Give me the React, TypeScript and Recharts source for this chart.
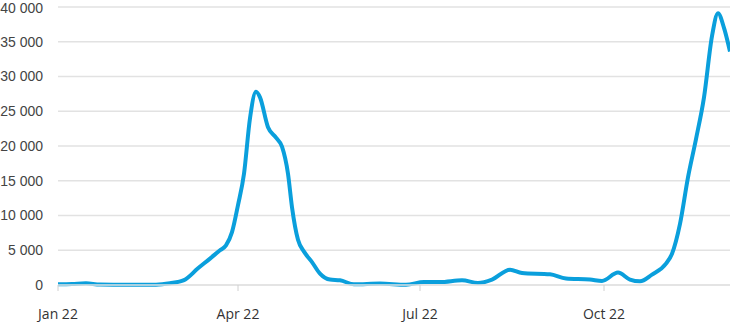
import React from 'react';
import { LineChart, Line, XAxis, YAxis, CartesianGrid } from 'recharts';

// sample dates (2022)
const dates = [
  '2022-01-01', '2022-01-08', '2022-01-15', '2022-01-22', '2022-02-05', '2022-02-19',
  '2022-02-26', '2022-03-05', '2022-03-12', '2022-03-18', '2022-03-23', '2022-03-26',
  '2022-03-29', '2022-04-01', '2022-04-04', '2022-04-07', '2022-04-10', '2022-04-12',
  '2022-04-16', '2022-04-20', '2022-04-23', '2022-04-26', '2022-04-28', '2022-05-01',
  '2022-05-04', '2022-05-08', '2022-05-12', '2022-05-17', '2022-05-22', '2022-05-29',
  '2022-06-11', '2022-06-24', '2022-07-03', '2022-07-11', '2022-07-22', '2022-07-30',
  '2022-08-06', '2022-08-15', '2022-08-21', '2022-09-04', '2022-09-12', '2022-09-24',
  '2022-09-30', '2022-10-08', '2022-10-14', '2022-10-19', '2022-10-25', '2022-11-01',
  '2022-11-04', '2022-11-08', '2022-11-12', '2022-11-16', '2022-11-20', '2022-11-24',
  '2022-11-27', '2022-11-30', '2022-12-03',
];

const values = [
  100, 150, 250, 60, 50, 50,
  250, 700, 2400, 3800, 5000, 5700,
  7600, 11500, 16000, 24000, 27800, 27000,
  22700, 21200, 19900, 16000, 11200, 6500,
  4800, 3300, 1640, 780, 680, 100,
  200, 50, 430, 430, 680, 290,
  780, 2200, 1730, 1540, 920, 780,
  580, 1790, 780, 530, 1500, 3080,
  4500, 8800, 15500, 21000, 27000, 35800,
  39100, 37000, 33600,
];

const xTicks = ['2022-01-01', '2022-04-01', '2022-07-01', '2022-10-01'];
const yTicks = [0, 5000, 10000, 15000, 20000, 25000, 30000, 35000, 40000];
const monthNames = ['Jan', 'Feb', 'Mar', 'Apr', 'May', 'Jun', 'Jul', 'Aug', 'Sep', 'Oct', 'Nov', 'Dec'];

const toTime = (d: string) => Date.parse(d + 'T00:00:00Z');

const data = dates.map((d, i) => ({ t: toTime(d), value: values[i] }));

const formatDate = (t: number) => {
  const d = new Date(t);
  return `${monthNames[d.getUTCMonth()]} ${String(d.getUTCFullYear()).slice(2)}`;
};

const formatNumber = (v: number) => String(v).replace(/\B(?=(\d{3})+(?!\d))/g, ' ');

export default function App() {
  return (
    <div style={{ position: 'absolute', left: 0, top: 0 }}>
      <LineChart width={730} height={322} data={data} margin={{ top: 7, right: 0, bottom: 0, left: 0 }}>
        <CartesianGrid vertical={false} stroke="#e2e2e2" strokeWidth={1.5} />
        <XAxis
          dataKey="t"
          type="number"
          domain={['dataMin', 'dataMax']}
          ticks={xTicks.map(toTime)}
          tickFormatter={formatDate}
          height={37}
          axisLine={{ stroke: '#e2e2e2', strokeWidth: 1.5 }}
          tickLine={{ stroke: '#d0d0d0' }}
          tickSize={6}
          tickMargin={18}
          tick={{ fontSize: 14, fill: '#333', fontFamily: 'Open Sans' }}
        />
        <YAxis
          domain={[0, 40000]}
          ticks={yTicks}
          tickFormatter={formatNumber}
          width={58}
          axisLine={false}
          tickLine={false}
          tickMargin={9}
          tick={{ fontSize: 14, fill: '#444', fontFamily: 'Liberation Sans' }}
        />
        <Line
          type="monotone"
          dataKey="value"
          stroke="#0a9fdc"
          strokeWidth={4}
          dot={false}
          isAnimationActive={false}
        />
      </LineChart>
    </div>
  );
}
